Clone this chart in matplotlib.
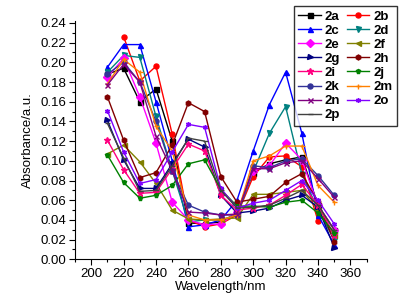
import numpy as np
import matplotlib
matplotlib.use("Agg")
import matplotlib.pyplot as plt

plt.rcParams['font.family'] = ['Liberation Sans', 'DejaVu Sans']

nan = np.nan
# wavelengths (nm)
wl = [210, 220, 230, 240, 250, 260, 270, 280, 290, 300, 310, 320, 330, 340, 350]

# absorbance values
a2a = [0.188, 0.194, 0.160, 0.173, 0.120, 0.037, 0.036, 0.038, 0.047, 0.088, 0.097, 0.101, 0.104, 0.055, 0.030]
a2b = [nan, 0.226, 0.181, 0.196, 0.127, 0.040, 0.033, 0.036, 0.045, 0.084, 0.104, 0.105, 0.094, 0.039, nan]
a2c = [0.195, 0.218, 0.218, 0.160, 0.100, 0.033, 0.035, 0.040, 0.060, 0.110, 0.157, 0.190, 0.128, 0.045, 0.015]
a2d = [0.190, 0.207, 0.205, 0.145, 0.090, 0.038, 0.040, 0.040, 0.045, 0.089, 0.128, 0.155, 0.087, 0.050, 0.020]
a2e = [0.185, 0.204, 0.165, 0.118, 0.058, 0.040, 0.035, 0.036, 0.048, 0.090, 0.095, 0.118, 0.101, 0.055, 0.030]
a2f = [0.107, 0.116, 0.099, 0.077, 0.050, 0.041, 0.040, 0.041, 0.042, 0.066, 0.066, 0.068, 0.070, 0.050, 0.025]
a2g = [0.141, 0.101, 0.072, 0.072, 0.097, 0.122, 0.114, 0.065, 0.047, 0.049, 0.052, 0.060, 0.065, 0.053, 0.012]
a2h = [0.165, 0.121, 0.083, 0.088, 0.116, 0.159, 0.150, 0.084, 0.058, 0.061, 0.064, 0.078, 0.087, 0.058, 0.018]
a2i = [0.121, 0.091, 0.067, 0.068, 0.092, 0.117, 0.110, 0.065, 0.050, 0.052, 0.055, 0.065, 0.076, 0.055, 0.025]
a2j = [0.106, 0.078, 0.062, 0.065, 0.075, 0.097, 0.101, 0.071, 0.054, 0.054, 0.053, 0.058, 0.060, 0.047, 0.027]
a2k = [0.188, 0.200, 0.180, 0.140, 0.090, 0.055, 0.048, 0.045, 0.045, 0.095, 0.093, 0.100, 0.102, 0.085, 0.065]
a2m = [0.178, 0.203, 0.190, 0.135, 0.110, 0.045, 0.040, 0.040, 0.045, 0.100, 0.105, 0.115, 0.115, 0.075, 0.058]
a2n = [0.177, 0.198, 0.180, 0.125, 0.090, 0.048, 0.047, 0.045, 0.046, 0.092, 0.092, 0.098, 0.100, 0.082, 0.063]
a2o = [0.151, 0.109, 0.077, 0.081, 0.109, 0.137, 0.134, 0.072, 0.052, 0.057, 0.060, 0.070, 0.080, 0.060, 0.036]
a2p = [0.138, 0.103, 0.069, 0.070, 0.095, 0.123, 0.120, 0.070, 0.052, 0.053, 0.055, 0.062, 0.070, 0.055, 0.030]

labels = ['2a', '2b', '2c', '2d', '2e', '2f', '2g', '2h', '2i', '2j', '2k', '2m', '2n', '2o', '2p']
series = [a2a, a2b, a2c, a2d, a2e, a2f, a2g, a2h, a2i, a2j, a2k, a2m, a2n, a2o, a2p]
colors = ['#000000', '#FF0000', '#0000FF', '#008080', '#FF00FF', '#808000', '#000080',
          '#800000', '#FF0080', '#008000', '#333399', '#FF8000', '#800080', '#8000FF', '#404040']
markers = ['s', 'o', '^', 'v', 'D', '<', '>', 'h', '*', 'p', 'o', '+', 'x', (6, 2, 0), '_']

fig = plt.figure(figsize=(4.11, 3.08), dpi=100)
ax = fig.add_axes([0.1825, 0.158, 0.7095, 0.774])

handles = {}
for lab, y, c, m in zip(labels, series, colors, markers):
  ms = 4.5 if m == '*' else 3.6
  ln, = ax.plot(wl, y, color=c, marker=m, markersize=ms, lw=1.0, mew=1.0, label=lab)
  handles[lab] = ln

ax.set_xlim(190, 370)
ax.set_ylim(0, 0.242)
ax.set_xticks(np.arange(200, 361, 20))
ax.set_xticks(np.arange(190, 371, 10), minor=True)
ax.set_yticks(np.arange(0, 0.241, 0.02))
ax.set_yticks(np.arange(0, 0.241, 0.01), minor=True)
ax.yaxis.set_major_formatter(matplotlib.ticker.FormatStrFormatter('%.2f'))
ax.tick_params(which='major', direction='out', length=4, width=0.8, labelsize=9.5, pad=2)
ax.tick_params(which='minor', direction='out', length=2, width=0.8)
ax.spines['top'].set_visible(False)
ax.spines['right'].set_visible(False)

ax.set_xlabel('Wavelength/nm', fontsize=9.5, labelpad=1)
ax.set_ylabel('Absorbance/a.u.', fontsize=9.5, labelpad=5)

# legend filled row-wise like the original: 2a 2b / 2c 2d ...
order = ['2a', '2c', '2e', '2g', '2i', '2k', '2n', '2p',
         '2b', '2d', '2f', '2h', '2j', '2m', '2o']
leg = fig.legend([handles[k] for k in order], order, ncol=2, loc='upper right',
                 bbox_to_anchor=(0.966, 0.981), borderaxespad=0, frameon=True,
                 fancybox=False, edgecolor='black', handlelength=1.7,
                 labelspacing=0.14, columnspacing=0.5, handletextpad=0.3,
                 borderpad=0.35, prop={'weight': 'bold', 'size': 9.5})
leg.get_frame().set_linewidth(1.0)

fig.savefig('out.png', dpi=100)
